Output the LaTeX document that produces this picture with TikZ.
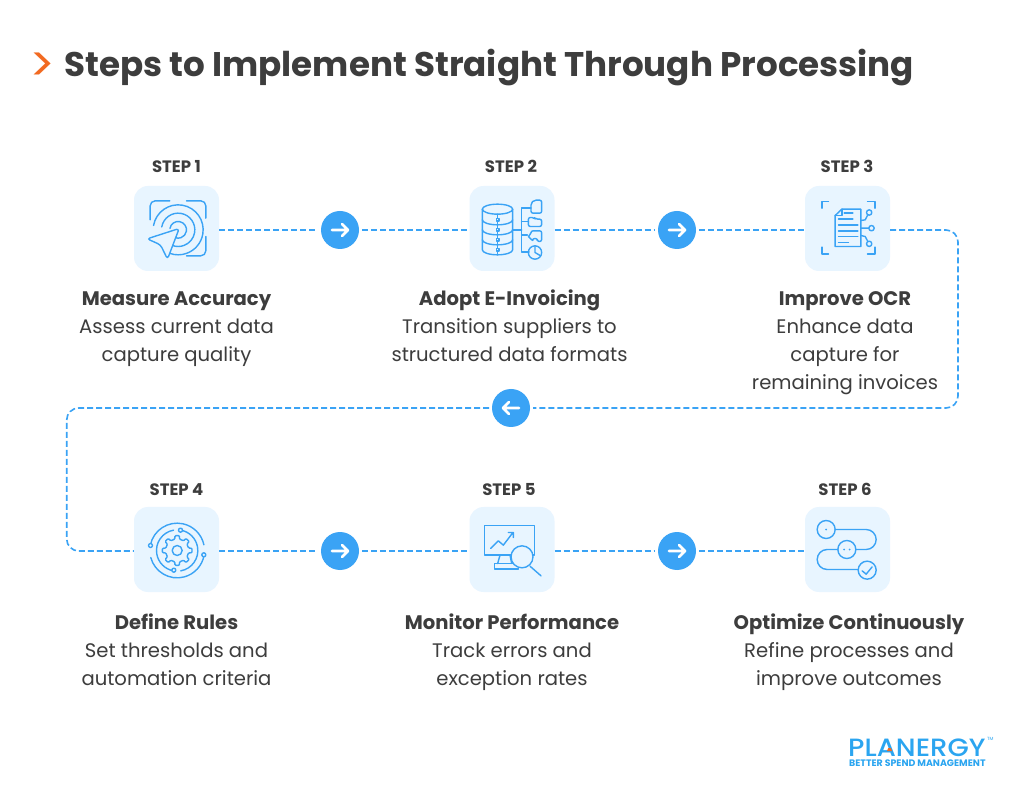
\documentclass[tikz,border=0pt]{standalone}
\usepackage{fontspec}
\setmainfont{Poppins}
\newfontfamily\logofont{Poppins Medium}
\usepackage{xcolor}
\usepackage{tikz}
\definecolor{flowblue}{HTML}{3AA3F5}
\definecolor{tileblue}{HTML}{E8F5FF}
\definecolor{inkgray}{HTML}{3D3D3D}
\definecolor{logoblue}{HTML}{2BA5F0}
\definecolor{markorange}{HTML}{F26A21}
\tikzstyle{tile} = [rectangle, rounded corners=14pt, minimum width=85pt, minimum height=85pt, inner sep=0pt, fill=tileblue]
\tikzstyle{flowdot} = [circle, minimum size=38pt, inner sep=0pt, outer sep=3pt, fill=flowblue]
\tikzstyle{toright} = [flowdot, path picture={\draw[white, line width=2.8pt, line cap=round, line join=round] ([xshift=-8pt]path picture bounding box.center) -- ([xshift=8pt]path picture bounding box.center) ([xshift=2pt,yshift=6pt]path picture bounding box.center) -- ([xshift=8pt]path picture bounding box.center) -- ([xshift=2pt,yshift=-6pt]path picture bounding box.center);}]
\tikzstyle{toleft} = [flowdot, path picture={\draw[white, line width=2.8pt, line cap=round, line join=round] ([xshift=8pt]path picture bounding box.center) -- ([xshift=-8pt]path picture bounding box.center) ([xshift=-2pt,yshift=6pt]path picture bounding box.center) -- ([xshift=-8pt]path picture bounding box.center) -- ([xshift=-2pt,yshift=-6pt]path picture bounding box.center);}]
\tikzstyle{flow} = [draw=flowblue, line width=1.6pt, dash pattern=on 6pt off 3pt]
\tikzstyle{steplabel} = [inner sep=0pt, text=inkgray, text height=11.8pt, text depth=0pt, font=\fontsize{16.5}{18}\selectfont\bfseries]
\tikzstyle{headtext} = [inner sep=0pt, text=inkgray, text height=14pt, text depth=4.5pt, font=\fontsize{19.6}{24}\selectfont\bfseries]
\tikzstyle{bodytext} = [inner sep=0pt, text=inkgray, align=center, font=\fontsize{19.6}{28.3}\selectfont]
\tikzstyle{iconline} = [x=0.3333pt, y=-0.3333pt, flowblue, line width=1.4pt, line cap=round, line join=round]

\begin{document}
\begin{tikzpicture}[x=1pt, y=1pt, node distance=168pt]
\useasboundingbox (0,0) rectangle (1024,798);
\fill[white] (0,0) rectangle (1024,798);

% title
\node (mark) [text=markorange, inner sep=0pt, font=\fontsize{48}{50}\selectfont] at (42,731) {>};
\node (title) [anchor=west, inner sep=0pt, text=inkgray, font=\fontsize{34.15}{40}\selectfont\bfseries] at (64,730) {Steps to Implement Straight Through Processing};

% tiles and arrows
\node (s1) [tile] at (176.5,569.5) {};
\node (a1) [toright, right of=s1, xshift=-4.5pt, yshift=-1.5pt] {};
\node (s2) [tile, right of=a1, xshift=4pt, yshift=1.5pt] {};
\node (a2) [toright, right of=s2, xshift=-3pt, yshift=-1.5pt] {};
\node (s3) [tile, right of=a2, xshift=2.5pt, yshift=1.5pt] {};
\node (s4) [tile, below of=s1, yshift=-153pt] {};
\node (a4) [toright, right of=s4, xshift=-4.5pt, yshift=-1.5pt] {};
\node (s5) [tile, right of=a4, xshift=4pt, yshift=1.5pt] {};
\node (a5) [toright, right of=s5, xshift=-3pt, yshift=-1.5pt] {};
\node (s6) [tile, right of=a5, xshift=2.5pt, yshift=1.5pt] {};
\node (a3) [toleft, below of=s2, xshift=-1pt, yshift=-11.5pt] {};
\coordinate (turnr) at (958,390);
\coordinate (turnl) at (66.7,390);

% connectors
\draw [flow] (s1.east |- a1) -- (a1);
\draw [flow] (a1) -- (s2.west |- a1);
\draw [flow] (s2.east |- a2) -- (a2);
\draw [flow] (a2) -- (s3.west |- a2);
\draw [flow, rounded corners=12pt] (s3.east |- a2) -| (turnr) -- (a3);
\draw [flow, rounded corners=12pt] (a3) -- (turnl) |- (s4.west |- a4);
\draw [flow] (s4.east |- a4) -- (a4);
\draw [flow] (a4) -- (s5.west |- a4);
\draw [flow] (s5.east |- a5) -- (a5);
\draw [flow] (a5) -- (s6.west |- a5);

% texts, first row
\node (l1) [steplabel, above of=s1, node distance=61.5pt] {STEP 1};
\node (l2) [steplabel, above of=s2, node distance=61.5pt, xshift=-1pt] {STEP 2};
\node (l3) [steplabel, above of=s3, node distance=61.5pt, xshift=-0.5pt] {STEP 3};
\node (h1) [headtext, below of=s1, node distance=72.5pt] {Measure Accuracy};
\node (h2) [headtext, below of=s2, node distance=72.5pt, xshift=-2.5pt] {Adopt E-Invoicing};
\node (h3) [headtext, below of=s3, node distance=72.5pt, xshift=-2.5pt] {Improve OCR};
\node (b1) [bodytext, below of=h1, node distance=17.5pt, anchor=north] {Assess current data\\capture quality};
\node (b2) [bodytext, below of=h2, node distance=17.5pt, anchor=north] {Transition suppliers to\\structured data formats};
\node (b3) [bodytext, below of=h3, node distance=17.5pt, anchor=north] {Enhance data\\capture for\\remaining invoices};

% texts, second row
\node (l4) [steplabel, above of=s4, node distance=60pt] {STEP 4};
\node (l5) [steplabel, above of=s5, node distance=60pt, xshift=-3pt] {STEP 5};
\node (l6) [steplabel, above of=s6, node distance=60pt, xshift=-2.5pt] {STEP 6};
\node (h4) [headtext, below of=s4, node distance=75pt] {Define Rules};
\node (h5) [headtext, below of=s5, node distance=75pt] {Monitor Performance};
\node (h6) [headtext, below of=s6, node distance=75pt, xshift=1.5pt] {Optimize Continuously};
\node (b4) [bodytext, below of=h4, node distance=18pt, anchor=north] {Set thresholds and\\automation criteria};
\node (b5) [bodytext, below of=h5, node distance=18pt, anchor=north] {Track errors and\\exception rates};
\node (b6) [bodytext, below of=h6, node distance=18pt, anchor=north] {Refine processes and\\improve outcomes};

% logo
\node (logo) [anchor=west, inner sep=0pt, text=logoblue, xscale=1.1, transform shape, font=\fontsize{25}{28}\logofont\selectfont] at (848,50.5) {PLANERGY};
\node (tm) [anchor=west, inner sep=0pt, text=logoblue, font=\fontsize{4.5}{5}\selectfont] at (987,59) {TM};
\node (claim) [anchor=west, inner sep=0pt, text=logoblue, font=\fontsize{9.4}{10}\selectfont\bfseries] at (849,34.5) {BETTER SPEND MANAGEMENT};
\fill[markorange] (887,47) -- (892,47) -- (890.8,50) -- (888.2,50) -- cycle;

% icon, step 1
\begin{scope}[iconline, shift={(s1.center)}, shift={(-170,-236)}]
\foreach \r in {25,50,75} \draw (175,240) ++(-170:\r) arc (-170:110:\r);
\draw[rounded corners=3pt, fill=tileblue] (178,236) -- (82,267) -- (122,285) -- (143,328) -- cycle;
\draw[rounded corners=5pt] (91,210) |- (150,153);
\draw[rounded corners=5pt] (200,153) -| (258,205);
\draw[rounded corners=5pt] (258,260) |- (200,318);
\end{scope}

% icon, step 2
\begin{scope}[iconline, shift={(s2.center)}, shift={(-186,-176)}]
\draw (142.5,118) ellipse (45.5 and 15);
\draw (97,118) -- (97,240) arc (180:0:45.5 and 15) -- (188,118);
\foreach \y in {150,180,210} \draw (97,\y) arc (180:0:45.5 and 15);
\draw (143,133) -- (143,255);
\foreach \y in {150,180,210,240} \draw[fill=tileblue] (139,\y-4) rectangle (147,\y+4);
\draw (188,180) -- (215,180);
\draw (243,115) -- (215,115) -- (215,247) -- (237,247);
\draw (215,155) -- (235,155) (215,195) -- (232,195);
\draw[rounded corners=2pt] (243,100) -- (252,91) -- (275,91) -- (275,130) -- (243,130) -- cycle;
\draw[rounded corners=2pt] (235,170) -- (235,143) -- (252,143) -- (257,148) -- (275,148) -- (275,170) -- cycle;
\draw[rounded corners=2pt] (243,183) -- (275,183) -- (275,215) -- (262,215) -- (262,206) -- (248,206) -- (248,215) -- (243,205) -- (232,200) -- (243,195) -- cycle;
\draw (255,248) circle (20);
\draw (255,228) -- (255,248) -- (272,258);
\end{scope}

% icon, step 3
\begin{scope}[iconline, shift={(s3.center)}, shift={(-172,-176)}]
\draw (95,115) |- (115,95) (232,95) -| (254,115) (254,232) |- (232,253) (115,253) -| (95,232);
\draw (155,118) -- (212,118) -- (212,230) -- (135,230) -- (135,137) -- cycle;
\draw (155,118) -- (155,137) -- (135,137);
\draw (162,130) -- (188,130) (145,148) -- (188,148) (145,165) -- (203,165);
\draw (145,183) -- (203,183) (145,200) -- (203,200) (145,218) -- (175,218);
\draw (212,152) -- (225,150) -- (233,135) (212,175) -- (235,175) (212,197) -- (225,200) -- (233,215);
\foreach \x/\y in {237/128,244/175,237/222} \draw (\x,\y) circle (8);
\end{scope}

% icon, step 4
\begin{scope}[iconline, shift={(s4.center)}, shift={(2,3)}]
\draw (0,0) circle (15);
\draw[rounded corners=1pt] (-11:35) \foreach \a in {0,45,...,315} { -- (\a-11:35) -- (\a-9:45) -- (\a+9:45) -- (\a+11:35) } -- cycle;
\draw (-168:82) arc (-168:-12:82);
\draw (-195:82) arc (-195:-350:82);
\draw (-100:62) arc (-100:-260:62);
\draw (-280:62) arc (-280:-440:62);
\foreach \x/\y in {-80/-15,80/13,10/-61,-10/59} \draw[fill=tileblue] (\x,\y) circle (6);
\end{scope}

% icon, step 5
\begin{scope}[iconline, shift={(s5.center)}, shift={(-186,-148)}]
\draw (103,76) rectangle (253,165);
\draw (150,165) -- (143,190) (180,165) -- (185,190);
\draw (133,190) rectangle (205,207);
\draw (122,145) -- (145,122) -- (160,135) -- (188,98) (175,97) -- (190,97) -- (190,112);
\draw[fill=tileblue] (216,170) circle (33);
\draw (240,198) -- (273,227);
\end{scope}

% icon, step 6
\begin{scope}[iconline, shift={(s6.center)}, shift={(-174,-148)}]
\draw (137,88) -- (230,88) arc (-90:90:30) -- (199,148);
\draw (145,148) -- (113,148) arc (-90:-270:30) -- (206,208);
\foreach \x/\y in {110/88,172/148,233/210} \draw (\x,\y) circle (27);
\fill (110,88) circle (3) (164,148) circle (3) (180,148) circle (3);
\draw (218,212) -- (230,222) -- (248,200);
\end{scope}
\end{tikzpicture}
\end{document}
